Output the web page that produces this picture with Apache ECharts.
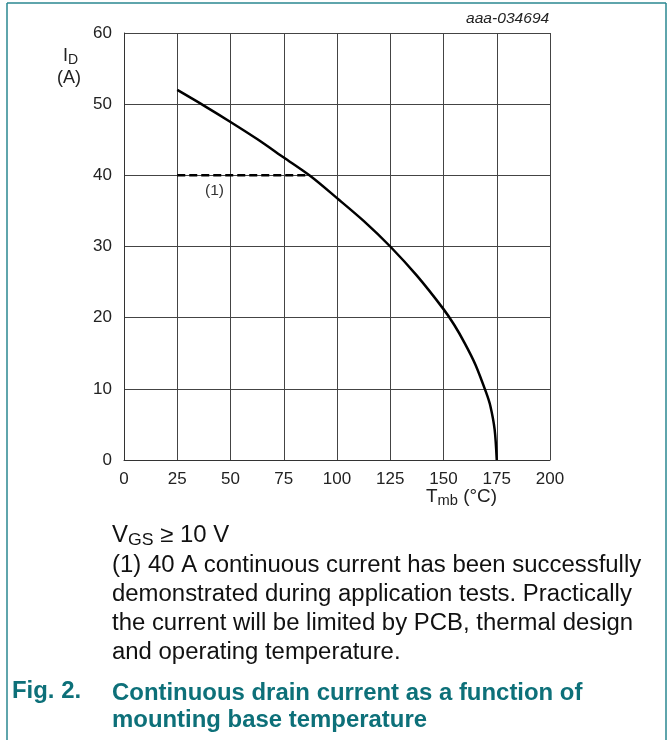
<!DOCTYPE html>
<html>
<head>
<meta charset="utf-8">
<script src="https://cdn.jsdelivr.net/npm/echarts@6/dist/echarts.min.js"></script>
<style>
  html, body { margin: 0; padding: 0; background: #fff; }
  #myChart { width: 669px; height: 740px; }
</style>
</head>
<body>
<div id="myChart"></div>
<script>
// mounting base temperature (°C) vs drain current (A)
const tmb = [25, 37.5, 50, 62.5, 75, 87.5, 100, 112.5, 125, 137.5, 150, 155, 160, 165, 170, 172, 174, 175];
const idCurrent = [52, 49.8, 47.5, 45.1, 42.5, 39.9, 36.8, 33.6, 30, 25.9, 21.2, 19, 16.4, 13.4, 9.5, 7.6, 4.3, 0];
// (1) 40 A continuous limit
const limitT = [25, 86];
const limitI = [40, 40];
const xTicks = [0, 200, 25];
const yTicks = [0, 60, 10];

const font = "Liberation Sans, Arial, sans-serif";
const teal = "#0d7079";
const sx = 1.04;

let myChart = echarts.init(document.getElementById("myChart"));

const notes = [
  "(1) 40 A continuous current has been successfully",
  "demonstrated during application tests. Practically",
  "the current will be limited by PCB, thermal design",
  "and operating temperature.",
];

const graphics = [
  // frame
  { type: "line", shape: { x1: 7, y1: 3, x2: 666, y2: 3 }, style: { stroke: "#2a8790", lineWidth: 1.5 } },
  { type: "line", shape: { x1: 7, y1: 3, x2: 7, y2: 740 }, style: { stroke: "#2a8790", lineWidth: 1.5 } },
  { type: "line", shape: { x1: 666, y1: 3, x2: 666, y2: 740 }, style: { stroke: "#2a8790", lineWidth: 1.5 } },
  {
    type: "text", x: 466, y: 11, scaleX: sx,
    style: { text: "aaa-034694", font: "italic 15px " + font, fill: "#222" },
  },
  {
    type: "text", x: 63, y: 45,
    style: {
      text: "{a|I}{b|D}",
      rich: {
        a: { fontSize: 18, fontFamily: font, fill: "#222" },
        b: { fontSize: 14, fontFamily: font, fill: "#222", padding: [8, 0, 0, 0] },
      },
    },
  },
  {
    type: "text", x: 57, y: 69,
    style: { text: "(A)", font: "18px " + font, fill: "#222" },
  },
  {
    type: "text", x: 426, y: 486, scaleX: 1.05,
    style: {
      text: "{a|T}{b|mb}{a| (°C)}",
      rich: {
        a: { fontSize: 18, fontFamily: font, fill: "#222" },
        b: { fontSize: 14, fontFamily: font, fill: "#222", padding: [8, 0, 0, 0] },
      },
    },
  },
  {
    type: "text", x: 205, y: 183, scaleX: sx,
    style: { text: "(1)", font: "15px " + font, fill: "#333" },
  },
  {
    type: "text", x: 112, y: 522, scaleX: sx,
    style: {
      text: "{a|V}{b|GS}{a| ≥ 10 V}",
      rich: {
        a: { fontSize: 23, fontFamily: font, fill: "#111" },
        b: { fontSize: 17, fontFamily: font, fill: "#111", padding: [10, 0, 0, 0] },
      },
    },
  },
  {
    type: "text", x: 112, y: 551, scaleX: sx,
    style: { text: notes.join("\n"), font: "23px " + font, fill: "#111", lineHeight: 29 },
  },
  {
    type: "text", x: 12, y: 680, scaleX: sx,
    style: { text: "Fig. 2.", font: "bold 23px " + font, fill: teal },
  },
  {
    type: "text", x: 112, y: 680, scaleX: sx,
    style: {
      text: "Continuous drain current as a function of\nmounting base temperature",
      font: "bold 23px " + font, fill: teal, lineHeight: 27,
    },
  },
];

myChart.setOption({
  animation: false,
  backgroundColor: "#fff",
  grid: { left: 124, right: 119, top: 33, bottom: 280 },
  xAxis: {
    type: "value",
    min: xTicks[0], max: xTicks[1], interval: xTicks[2],
    axisLine: { show: true, lineStyle: { color: "#333", width: 1 } },
    axisTick: { show: false },
    splitLine: { show: true, lineStyle: { color: "#444", width: 1 } },
    axisLabel: { color: "#222", fontSize: 17, fontFamily: font, margin: 11 },
  },
  yAxis: {
    type: "value",
    min: yTicks[0], max: yTicks[1], interval: yTicks[2],
    axisLine: { show: true, lineStyle: { color: "#333", width: 1 } },
    axisTick: { show: false },
    splitLine: { show: true, lineStyle: { color: "#444", width: 1 } },
    axisLabel: { color: "#222", fontSize: 17, fontFamily: font, margin: 12 },
  },
  series: [
    {
      name: "ID",
      type: "line",
      data: tmb.map((t, i) => [t, idCurrent[i]]),
      showSymbol: false,
      smooth: 0.3,
      lineStyle: { color: "#000", width: 2.5 },
      z: 3,
    },
    {
      name: "limit",
      type: "line",
      data: limitT.map((t, i) => [t, limitI[i]]),
      showSymbol: false,
      lineStyle: { color: "#000", width: 2.5, type: [8, 4] },
      z: 3,
    },
  ],
  graphic: graphics,
});
</script>
</body>
</html>
